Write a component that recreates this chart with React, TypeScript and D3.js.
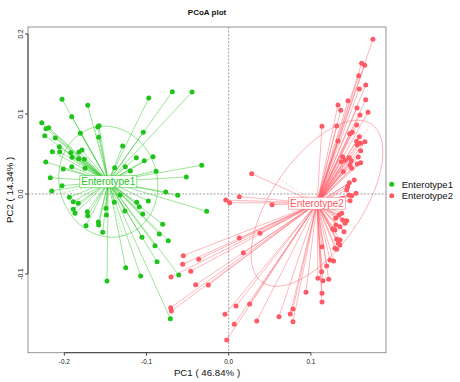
import React from "react";
import * as d3 from "d3";

const groupNames = ["Enterotype1", "Enterotype2"];
const groupColors = ["#1ec41a", "#ff5a66"];

const e1X = [-0.2028,-0.1715,-0.1910,-0.2275,-0.2223,-0.2190,-0.2238,-0.2109,-0.1805,-0.1594,-0.1578,-0.1582,-0.2061,-0.2146,-0.2056,-0.1922,-0.1906,-0.1821,-0.1785,-0.1825,-0.1757,-0.2012,-0.1910,-0.2226,-0.2170,-0.2028,-0.2153,-0.1939,-0.1891,-0.1830,-0.1891,-0.1870,-0.1720,-0.1715,-0.1736,-0.1586,-0.1582,-0.1493,-0.1487,-0.1533,-0.1290,-0.1039,-0.0973,-0.0686,-0.0446,-0.1124,-0.1027,-0.0921,-0.1258,-0.1387,-0.1197,-0.0884,-0.0328,-0.0516,-0.0766,-0.0620,-0.0268,-0.1322,-0.1392,-0.1119,-0.1088,-0.1046,-0.1262,-0.0978,-0.0803,-0.0844,-0.0735,-0.1055,-0.0897,-0.0872,-0.1253,-0.1071,-0.1481,-0.0608,-0.0710,-0.1748];
const e1Y = [0.1184,0.1109,0.0966,0.0891,0.0816,0.0829,0.0729,0.0700,0.0759,0.0838,0.0854,0.0709,0.0591,0.0529,0.0529,0.0516,0.0459,0.0525,0.0550,0.0441,0.0434,0.0313,0.0341,0.0400,0.0204,0.0104,0.0038,-0.0041,-0.0096,-0.0116,-0.0191,-0.0241,-0.0221,-0.0271,-0.0396,-0.0350,-0.0388,-0.0179,-0.0263,-0.0479,0.0600,0.0771,0.1200,0.1279,0.1275,0.0454,0.0416,0.0466,0.0341,0.0329,0.0288,0.0284,0.0359,0.0213,0.0025,-0.0016,-0.0216,-0.0013,-0.0104,-0.0104,-0.0159,-0.0250,-0.0213,-0.0088,-0.0379,-0.0500,-0.0584,-0.0541,-0.0646,-0.0846,-0.0921,-0.1025,-0.1088,-0.1013,-0.1559,0.0321];

const e2X = [0.1755,0.1618,0.1655,0.1582,0.1667,0.1589,0.1451,0.1667,0.1330,0.1363,0.1561,0.1695,0.1597,0.1135,0.1314,0.1557,0.1504,0.1472,0.1589,0.1330,0.1557,0.1658,0.1606,0.1564,0.1606,0.1387,0.1467,0.1577,0.1418,0.1491,0.1370,0.1606,0.1564,0.1476,0.1496,0.1394,0.1528,0.1467,0.1448,0.1436,0.1549,0.1464,0.1496,0.1387,0.1476,0.0280,0.0129,-0.0036,0.0012,0.0527,0.1375,0.1342,0.1302,0.1387,0.1436,0.1415,0.1305,0.1354,0.1265,0.1293,0.1403,0.1314,0.1354,0.1333,0.1354,0.1293,0.1314,0.1135,0.1232,0.1277,0.1192,0.1131,0.1086,0.1147,0.1217,0.1135,0.1135,0.0940,0.0782,0.0749,0.0782,0.0612,0.0341,0.0255,0.0089,-0.0045,0.0068,-0.0024,0.0129,0.0381,0.0178,-0.0552,-0.0365,-0.0560,-0.0462,-0.0702,-0.0401,-0.0248,-0.0706,-0.0698];
const e2Y = [0.1934,0.1634,0.1609,0.1479,0.1363,0.1313,0.1166,0.1179,0.1113,0.1046,0.1075,0.1021,0.0988,0.0846,0.0850,0.0863,0.0771,0.0754,0.0716,0.0663,0.0659,0.0654,0.0634,0.0613,0.0541,0.0466,0.0454,0.0463,0.0421,0.0416,0.0404,0.0391,0.0375,0.0363,0.0321,0.0279,0.0175,0.0141,0.0091,0.0050,0.0009,-0.0013,-0.0021,-0.0054,-0.0084,0.0254,-0.0034,-0.0075,-0.0109,-0.0134,-0.0241,-0.0263,-0.0304,-0.0325,-0.0334,-0.0366,-0.0388,-0.0409,-0.0438,-0.0450,-0.0471,-0.0566,-0.0575,-0.0616,-0.0638,-0.0679,-0.0691,-0.0659,-0.0825,-0.0838,-0.0900,-0.0971,-0.1054,-0.1084,-0.1066,-0.1241,-0.1350,-0.1229,-0.1438,-0.1500,-0.1596,-0.1534,-0.1588,-0.1375,-0.1400,-0.1504,-0.1629,-0.1825,-0.0550,-0.0491,-0.0734,-0.0771,-0.0816,-0.0879,-0.0966,-0.1038,-0.1134,-0.1138,-0.1421,-0.1463];

// class centroids and ellipse parameters (data units, angle in degrees)
const centerX = [-0.1465, 0.1074];
const centerY = [0.0154, -0.0116];
const ellA = [0.070, 0.119];
const ellB = [0.0596, 0.055];
const ellAngle = [104, 56.5];

const xTicks = [-0.2, -0.1, 0.0, 0.1];
const yTicks = [-0.1, 0.0, 0.1, 0.2];
const xLabel = "PC1 ( 46.84% )";
const yLabel = "PC2 ( 14.34% )";
const title = "PCoA plot";

const FONT = "'Liberation Sans', Arial, Helvetica, sans-serif";

export default function App() {
  const L = 28, R = 386, T = 27, B = 352.7;
  const x = d3.scaleLinear().domain([-0.2442, 0.1914]).range([L, R]);
  const y = d3.scaleLinear().domain([-0.1984, 0.20875]).range([B, T]);

  const groups = [
    { xs: e1X, ys: e1Y },
    { xs: e2X, ys: e2Y },
  ];

  const ellipsePath = (g: number) => {
    const th = (ellAngle[g] * Math.PI) / 180;
    const ts = d3.range(0, 2 * Math.PI + 0.001, Math.PI / 90);
    const pts = ts.map((t) => {
      const dx = ellA[g] * Math.cos(t) * Math.cos(th) - ellB[g] * Math.sin(t) * Math.sin(th);
      const dy = ellA[g] * Math.cos(t) * Math.sin(th) + ellB[g] * Math.sin(t) * Math.cos(th);
      return [x(centerX[g] + dx), y(centerY[g] + dy)] as [number, number];
    });
    return d3.line()(pts) || "";
  };

  const ellipseAxes = (g: number) => {
    const th = (ellAngle[g] * Math.PI) / 180;
    const c = [centerX[g], centerY[g]];
    const ax = [Math.cos(th), Math.sin(th)];
    const bx = [-Math.sin(th), Math.cos(th)];
    return [
      [c[0] - ellA[g] * ax[0], c[1] - ellA[g] * ax[1], c[0] + ellA[g] * ax[0], c[1] + ellA[g] * ax[1]],
      [c[0] - ellB[g] * bx[0], c[1] - ellB[g] * bx[1], c[0] + ellB[g] * bx[0], c[1] + ellB[g] * bx[1]],
    ];
  };

  return (
    <svg
      width={460}
      height={382}
      style={{ position: "absolute", left: 0, top: 0, background: "#fff" }}
      fontFamily={FONT}
    >
      <rect x={0} y={0} width={460} height={382} fill="#fff" />
      <text x={207} y={14.5} textAnchor="middle" fontSize={8} fontWeight="bold" fill="#111">
        {title}
      </text>

      {/* zero reference lines */}
      <line x1={x(0)} x2={x(0)} y1={T} y2={B} stroke="#999" strokeWidth={0.9} strokeDasharray="2,1.5" />
      <line x1={L} x2={R} y1={y(0)} y2={y(0)} stroke="#999" strokeWidth={0.9} strokeDasharray="2,1.5" />

      {/* star lines */}
      {groups.map((gr, g) =>
        gr.xs.map((v, i) => (
          <line
            key={`s${g}-${i}`}
            x1={x(centerX[g])}
            y1={y(centerY[g])}
            x2={x(v)}
            y2={y(gr.ys[i])}
            stroke={groupColors[g]}
            strokeOpacity={0.55}
            strokeWidth={0.8}
          />
        ))
      )}

      {/* ellipses */}
      {groups.map((_, g) => (
        <g key={`e${g}`}>
          <path d={ellipsePath(g)} fill="none" stroke={groupColors[g]} strokeOpacity={0.6} strokeWidth={0.8} />
          {ellipseAxes(g).map((s, k) => (
            <line
              key={k}
              x1={x(s[0])}
              y1={y(s[1])}
              x2={x(s[2])}
              y2={y(s[3])}
              stroke={groupColors[g]}
              strokeOpacity={0.5}
              strokeWidth={0.7}
              strokeDasharray="2,2"
            />
          ))}
        </g>
      ))}

      {/* points */}
      {groups.map((gr, g) =>
        gr.xs.map((v, i) => (
          <circle key={`p${g}-${i}`} cx={x(v)} cy={y(gr.ys[i])} r={2.5} fill={groupColors[g]} />
        ))
      )}

      {/* class labels */}
      {groupNames.map((name, g) => (
        <g key={`l${g}`}>
          <rect
            x={x(centerX[g]) - 28.5}
            y={y(centerY[g]) - 6}
            width={57}
            height={12}
            fill="#fff"
            stroke={groupColors[g]}
            strokeOpacity={0.6}
            strokeWidth={0.8}
          />
          <text
            x={x(centerX[g])}
            y={y(centerY[g]) + 3.6}
            textAnchor="middle"
            fontSize={10}
            fill={groupColors[g]}
          >
            {name}
          </text>
        </g>
      ))}

      {/* box */}
      <rect x={L} y={T} width={R - L} height={B - T} fill="none" stroke="#888" strokeWidth={0.9} />

      {/* x axis */}
      <line x1={x(xTicks[0])} x2={x(xTicks[xTicks.length - 1])} y1={B} y2={B} stroke="#333" strokeWidth={0.9} />
      {xTicks.map((t) => (
        <g key={`xt${t}`}>
          <line x1={x(t)} x2={x(t)} y1={B} y2={B + 3} stroke="#333" strokeWidth={0.9} />
          <text x={x(t)} y={363.5} textAnchor="middle" fontSize={6.4} fill="#111">
            {t.toFixed(1)}
          </text>
        </g>
      ))}
      {/* y axis */}
      <line x1={L} x2={L} y1={y(yTicks[0])} y2={y(yTicks[yTicks.length - 1])} stroke="#333" strokeWidth={0.9} />
      {yTicks.map((t) => (
        <g key={`yt${t}`}>
          <line x1={L - 3} x2={L} y1={y(t)} y2={y(t)} stroke="#333" strokeWidth={0.9} />
          <text
            transform={`translate(22.8, ${y(t)}) rotate(-90)`}
            textAnchor="middle"
            fontSize={6.4}
            fill="#111"
          >
            {t.toFixed(1)}
          </text>
        </g>
      ))}

      <text x={207} y={376} textAnchor="middle" fontSize={9.7} fill="#111">
        {xLabel}
      </text>
      <text transform={`translate(13, ${(T + B) / 2}) rotate(-90)`} textAnchor="middle" fontSize={9.7} fill="#111">
        {yLabel}
      </text>

      {/* legend */}
      {groupNames.map((name, g) => (
        <g key={`lg${g}`}>
          <circle cx={391.7} cy={184.3 + g * 11.4} r={2.5} fill={groupColors[g]} />
          <text x={401.7} y={187.7 + g * 11.4} fontSize={9.5} fill="#111">
            {name}
          </text>
        </g>
      ))}
    </svg>
  );
}
